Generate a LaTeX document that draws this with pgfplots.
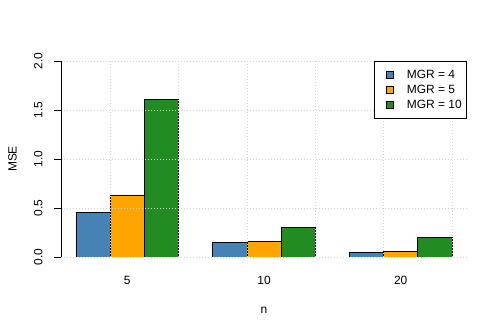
\documentclass[border=0pt]{standalone}
\usepackage{fontspec}
\setmainfont{Liberation Sans}
\usepackage{pgfplots}
\pgfplotsset{compat=1.18}
\definecolor{steelblue}{RGB}{70,130,180}
\definecolor{rorange}{RGB}{255,165,0}
\definecolor{forestgreen}{RGB}{34,139,34}
\definecolor{gridgray}{RGB}{211,211,211}
\pgfplotsset{
  swatch/.style={legend image code/.code={%
    \path[draw=none, fill=none] (0bp,0bp) -- (28bp,0bp);
    \draw[##1,draw=black,line width=0.6bp] (9bp,-3.5bp) rectangle (16bp,3.5bp);}},
}
\begin{document}
\begin{tikzpicture}
\begin{axis}[
  at={(61bp,76bp)}, anchor=south west,
  scale only axis, width=406bp, height=196bp,
  xmin=0.56, xmax=12.44, ymin=0, ymax=2,
  font=\fontsize{12}{14}\selectfont,
  /pgf/number format/assume math mode=true,
  axis lines*=left,
  x axis line style={draw=none},
  y axis line style={line width=0.8bp, -},
  axis on top,
  tick align=outside,
  major tick length=7bp,
  ytick={0,0.5,1,1.5,2},
  yticklabel style={/pgf/number format/fixed, /pgf/number format/fixed zerofill,
    /pgf/number format/precision=1},
  yticklabel style={xshift=-8bp, rotate=90, anchor=south},
  y tick style={line width=0.8bp, black},
  xtick={2.5,6.5,10.5},
  xticklabels={5,10,20},
  x tick style={draw=none},
  xticklabel style={yshift=-9bp},
  extra x ticks={2,4,6,8,10,12},
  extra x tick labels={},
  extra x tick style={xmajorgrids=true},
  ymajorgrids=true,
  major grid style={gridgray, line width=0.8bp, dash pattern=on 1bp off 2bp},
  xlabel={n},
  xlabel style={at={(axis description cs:0.5,-0.27)}, anchor=center},
  ylabel={MSE},
  ylabel style={at={(axis description cs:-0.1195,0.5)}, anchor=center, rotate=0},
  legend style={at={(rel axis cs:1,1)}, anchor=north east, draw=black, fill=white,
    line width=0.6bp, font=\fontsize{12}{13}\selectfont, row sep=1bp,
    inner xsep=3bp, inner ysep=7bp},
  legend cell align=left,
]
\addplot[ybar, bar width=1, bar shift=0pt, fill=steelblue, draw=black, line width=0.6bp, swatch]
  coordinates {(1.5,0.452) (5.5,0.150) (9.5,0.051)};
\addlegendentry{MGR = 4}
\addplot[ybar, bar width=1, bar shift=0pt, fill=rorange, draw=black, line width=0.6bp, swatch]
  coordinates {(2.5,0.633) (6.5,0.160) (10.5,0.058)};
\addlegendentry{MGR = 5}
\addplot[ybar, bar width=1, bar shift=0pt, fill=forestgreen, draw=black, line width=0.6bp, swatch]
  coordinates {(3.5,1.609) (7.5,0.303) (11.5,0.201)};
\addlegendentry{MGR = 10}
\end{axis}
\pgfresetboundingbox
\path (0,0) rectangle (498bp,333bp);
\end{tikzpicture}
\end{document}
